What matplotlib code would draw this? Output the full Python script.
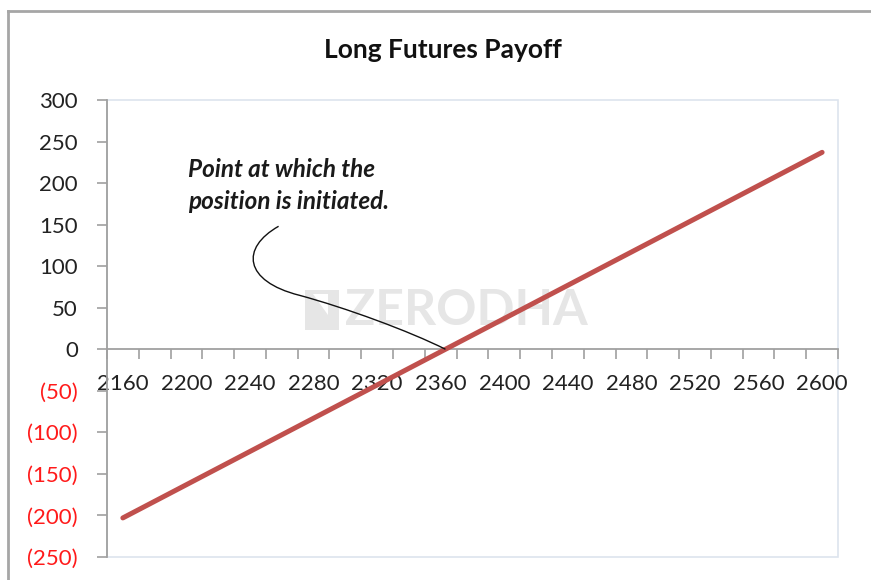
"""Long futures payoff chart (Excel-style) with annotation and watermark."""

import matplotlib
matplotlib.use("Agg")
import matplotlib.pyplot as plt
from matplotlib.lines import Line2D
from matplotlib.patches import PathPatch, Rectangle, Polygon
from matplotlib.path import Path
from matplotlib.ticker import FuncFormatter, MultipleLocator

plt.rcParams["font.family"] = ["Lato", "DejaVu Sans"]

# Underlying price at expiry and the payoff of the long futures position
prices = [2160, 2180, 2200, 2220, 2240, 2260, 2280, 2300, 2320, 2340, 2360, 2380,
          2400, 2420, 2440, 2460, 2480, 2500, 2520, 2540, 2560, 2580, 2600]
payoff = [-203, -183, -163, -143, -123, -103, -83, -63, -43, -23, -3, 17,
          37, 57, 77, 97, 117, 137, 157, 177, 197, 217, 237]
x_labels = [2160, 2200, 2240, 2280, 2320, 2360, 2400, 2440, 2480, 2520, 2560, 2600]

title = "Long Futures Payoff"
note = "Point at which the\nposition is initiated."

LINE_RED = "#c0504d"
AXIS_GREY = "#a0a0a0"
BORDER = "#dde4ee"


def y_fmt(v, _pos):
    v = int(round(v))
    return f"({abs(v)})" if v < 0 else f"{v}"


fig = plt.figure(figsize=(8.71, 5.80), dpi=100)
ax = fig.add_axes([0.1228, 0.0397, 0.8393, 0.7879])

ax.plot(prices, payoff, color=LINE_RED, lw=3.6, solid_capstyle="round", zorder=4)

ax.set_xlim(2150, 2610)
ax.set_ylim(-250, 300)

# spines: left axis grey, x axis crossing at zero
for side in ("top", "right"):
    ax.spines[side].set_visible(False)
ax.spines["left"].set_color(AXIS_GREY)
ax.spines["left"].set_linewidth(1.3)
ax.spines["bottom"].set_position(("data", 0))
ax.spines["bottom"].set_color(AXIS_GREY)
ax.spines["bottom"].set_linewidth(1.3)
ax.add_patch(Rectangle((0, 0), 1, 1, transform=ax.transAxes, fill=False,
                       edgecolor=BORDER, lw=1.2, zorder=0, clip_on=False))

ax.yaxis.set_major_locator(MultipleLocator(50))
ax.yaxis.set_major_formatter(FuncFormatter(y_fmt))
ax.tick_params(axis="y", direction="out", length=7, width=1.2, color=AXIS_GREY,
               labelsize=16, pad=14, labelcolor="#222222")
fig.canvas.draw()
for lab in ax.get_yticklabels():
    if lab.get_text().startswith("("):
        lab.set_color("#ff1a1a")

# category boundaries as ticks, labels at every other category centre
ax.xaxis.set_major_locator(MultipleLocator(20, offset=10))
ax.xaxis.set_major_formatter(plt.NullFormatter())
ax.set_xticks(x_labels, minor=True)
ax.set_xticklabels([str(v) for v in x_labels], minor=True)
ax.tick_params(axis="x", which="major", direction="out", length=7, width=1.2,
               color=AXIS_GREY)
ax.tick_params(axis="x", which="minor", length=0, labelsize=16, pad=18,
               labelcolor="#222222")

# watermark
ax.text(0.326, 0.54, "ZERODHA", transform=ax.transAxes, fontsize=36,
        fontweight="bold", color="#e6e6e6", ha="left", va="center", zorder=1)
ax.add_patch(Polygon([(0.271, 0.497), (0.271, 0.585), (0.318, 0.585), (0.318, 0.497)],
                     closed=True, transform=ax.transAxes, facecolor="#e6e6e6",
                     edgecolor="none", zorder=1))
ax.add_patch(Polygon([(0.282, 0.575), (0.303, 0.575), (0.303, 0.53)],
                     closed=True, transform=ax.transAxes, facecolor="white",
                     edgecolor="none", zorder=1))

# annotation
ax.text(2201, 230, note, fontsize=17.5, fontweight="bold", style="italic",
        color="#1a1a1a", ha="left", va="top", linespacing=1.45, zorder=5)
verts = [(2258, 148), (2234, 122), (2236, 82), (2271, 65),
         (2300, 50), (2340, 22), (2363, 0)]
codes = [Path.MOVETO, Path.CURVE4, Path.CURVE4, Path.CURVE4,
         Path.CURVE4, Path.CURVE4, Path.CURVE4]
ax.add_patch(PathPatch(Path(verts, codes), fill=False, edgecolor="#111111",
                       lw=1.0, zorder=5))

fig.text(0.508, 0.914, title, ha="center", va="center", fontsize=19,
         fontweight="bold", color="#111111")

# outer chart border (top and left)
fig.add_artist(Line2D([0.0092, 1.0], [0.981, 0.981], color="#a6a6a6", lw=2))
fig.add_artist(Line2D([0.0092, 0.0092], [0.0, 0.981], color="#a6a6a6", lw=2))

fig.savefig("out.png", dpi=100)
